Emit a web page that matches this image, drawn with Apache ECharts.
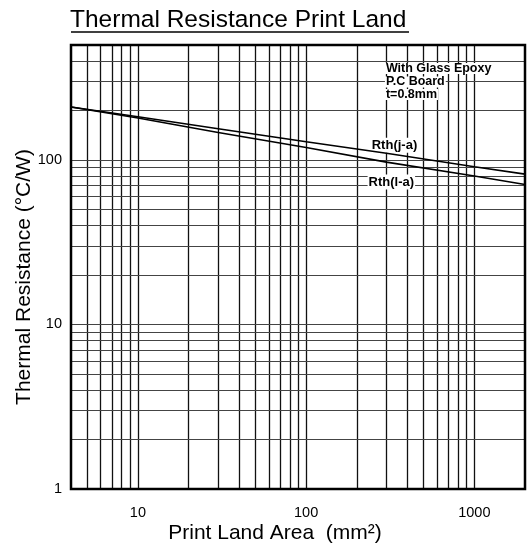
<!DOCTYPE html>
<html>
<head>
<meta charset="utf-8">
<script src="https://cdn.jsdelivr.net/npm/echarts@6/dist/echarts.min.js"></script>
<style>html,body{margin:0;padding:0;background:#fff;}#c{width:528px;height:547px;}</style>
</head>
<body>
<div id="c"></div>
<script>
// ---- data ----
const xAreas = [4, 10, 30, 100, 300, 1000, 2000];
const rthJA = [210, 183, 155, 129, 110, 91, 82];
const rthLA = [210, 180, 147, 119, 97, 80, 71];
const xTickLabels = [10, 100, 1000];
const yTickLabels = [1, 10, 100];
const xGridValues = [5, 6, 7, 8, 9, 10, 20, 30, 40, 50, 60, 70, 80, 90, 100, 200, 300, 400, 500, 600, 700, 800, 900, 1000];
const yGridValues = [2, 3, 4, 5, 6, 7, 8, 9, 10, 20, 30, 40, 50, 60, 70, 80, 90, 100, 200, 300, 400];
const xRange = [4, 2000];
const yRange = [1, 500];
const seriesNames = ['Rth(j-a)', 'Rth(l-a)'];
const labelPos = [[335, 123], [321, 73.5]];
const noteLines = ['With Glass Epoxy', 'P.C Board', 't=0.8mm'];
const notePos = [[292, 360], [292, 298], [292, 250]];
const titleText = 'Thermal Resistance Print Land';
const xName = 'Print Land Area  (mm²)';
const yName = 'Thermal Resistance (°C/W)';

function fmt(list) {
  return function (v) {
    const r = +Number(v).toPrecision(6);
    return list.indexOf(r) >= 0 ? String(r) : '';
  };
}

const FONT = 'Liberation Sans, Arial, sans-serif';
const chart = echarts.init(document.getElementById('c'), null, {renderer: 'canvas'});

const gridSeries = {
  type: 'line',
  data: [],
  silent: true,
  markLine: {
    silent: true,
    symbol: ['none', 'none'],
    label: {show: false},
    animation: false,
    data: xGridValues.map(v => ({xAxis: v, lineStyle: {color: '#111', width: 1.3, type: 'solid'}}))
      .concat(yGridValues.map(v => ({yAxis: v, lineStyle: {color: '#444', width: 1, type: 'solid'}})))
  }
};

const dataSeries = [rthJA, rthLA].map((vals, i) => ({
  type: 'line',
  name: seriesNames[i],
  data: xAreas.map((x, k) => [x, vals[k]]),
  showSymbol: false,
  lineStyle: {color: '#000', width: 1.6},
  z: 5,
  markPoint: {
    symbol: 'circle',
    symbolSize: 1,
    itemStyle: {color: 'rgba(0,0,0,0)'},
    silent: true,
    label: {
      show: true, position: 'inside', color: '#000', fontFamily: FONT, fontWeight: 'bold', fontSize: 13,
      backgroundColor: '#fff', padding: [1, 1],
      formatter: seriesNames[i]
    },
    data: [{coord: labelPos[i]}]
  }
}));

const noteSeries = {
  type: 'line',
  data: xAreas.map((x, k) => [x, rthJA[k]]),
  lineStyle: {opacity: 0},
  showSymbol: false,
  silent: true,
  z: 6,
  markPoint: {
    symbol: 'circle',
    symbolSize: 1,
    itemStyle: {color: 'rgba(0,0,0,0)'},
    silent: true,
    data: noteLines.map((t, i) => ({
      coord: notePos[i],
      label: {
        show: true, position: 'right', distance: 0, formatter: t, color: '#000', fontFamily: FONT, fontWeight: 'bold', fontSize: 12.5,
        backgroundColor: '#fff', padding: [0, 1], lineHeight: 11
      }
    }))
  }
};

chart.setOption({
  animation: false,
  backgroundColor: '#fff',
  title: {
    text: titleText,
    left: 70, top: 8, padding: 0,
    textStyle: {fontFamily: FONT, fontSize: 24.5, fontWeight: 'normal', color: '#000'}
  },
  graphic: [{
    type: 'line', shape: {x1: 71, y1: 32, x2: 409, y2: 32},
    style: {stroke: '#000', lineWidth: 1.5}
  }, {
    type: 'text', x: 275, y: 533,
    style: {text: xName, font: '21px ' + FONT, fill: '#000', align: 'center', verticalAlign: 'middle'}
  }, {
    type: 'text', x: 24, y: 277, rotation: Math.PI / 2,
    style: {text: yName, font: '21px ' + FONT, fill: '#000', align: 'center', verticalAlign: 'middle'}
  }],
  grid: {left: 71, right: 3, top: 45, bottom: 58, show: true, borderColor: '#000', borderWidth: 2.5, backgroundColor: 'transparent', z: 10},
  xAxis: {
    type: 'log', logBase: 10, min: xRange[0], max: xRange[1],
    axisLine: {show: false}, axisTick: {show: false}, splitLine: {show: false},
    axisLabel: {formatter: fmt(xTickLabels), fontFamily: FONT, fontSize: 14.5, color: '#000', margin: 16}
  },
  yAxis: {
    type: 'log', logBase: 10, min: yRange[0], max: yRange[1],
    axisLine: {show: false}, axisTick: {show: false}, splitLine: {show: false},
    axisLabel: {formatter: fmt(yTickLabels), fontFamily: FONT, fontSize: 14.5, color: '#000', margin: 9}
  },
  series: [gridSeries].concat(dataSeries).concat([noteSeries])
});
</script>
</body>
</html>
